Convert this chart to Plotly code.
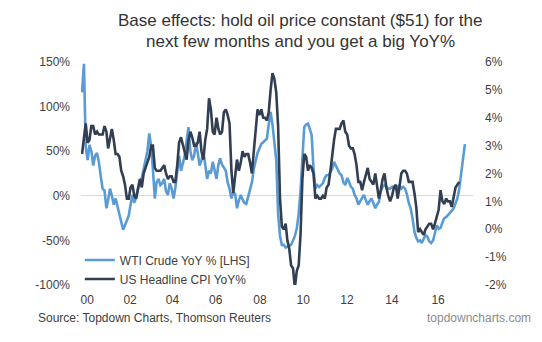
import plotly.graph_objects as go
import pandas as pd

# ---- data (monthly, starting Jan 2000) ----
wti_yoy = [
    116, 148, 55, 40, 57, 50, 34, 45, 48, 38, 22, 8,          # 2000
    6, -14, -5, 8, 0, -10, -3, -12, -22, -29, -38, -33,       # 2001
    -28, -22, -10, 1, -8, -2, 8, 16, 20, 30, 42, 50,          # 2002
    70, 55, 30, -3, 15, 19, 12, 14, 19, 5, 1, 14,             # 2003
    8, -3, 9, 30, 45, 28, 35, 45, 62, 77, 50, 40,             # 2004
    45, 60, 48, 34, 40, 49, 35, 19, 28, 25, 38, 30,           # 2005
    19, 35, 42, 35, 31, 28, 15, 8, -3, 4, 2, -14,             # 2006
    -5, 1, -4, -8, -9, 0, 8, 15, 30, 40, 48, 53,              # 2007
    58, 60, 62, 64, 80, 94, 80, 60, 40, -20, -45, -55,        # 2008
    -55, -58, -57, -56, -55, -50, -45, -37, -20, 5, 45, 77,   # 2009
    80, 81, 75, 68, 30, 8, 12, 10, 12, 14, 20, 23,            # 2010
    23, 27, 30, 38, 33, 29, 25, 23, 15, 12, 20, 16,           # 2011
    10, 8, 1, -3, -10, -6, -2, 1, -5, -10, -6, -3,            # 2012
    -8, -14, -10, -7, 5, 10, 12, 10, 8, 8, 10, 10,            # 2013
    8, 10, 12, 8, 10, 8, 2, -8, -14, -25, -40, -47,           # 2014
    -51, -50, -53, -48, -44, -46, -51, -53, -50, -42, -33, -37,  # 2015
    -36, -30, -25, -24, -22, -20, -17, -14, -7, -3, 8, 25,    # 2016
    45, 58,                                                   # 2017 (oil held at $51)
]

cpi_yoy = [
    2.7, 3.2, 3.8, 3.1, 3.2, 3.7, 3.7, 3.4, 3.5, 3.4, 3.4, 3.4,
    3.7, 3.5, 2.9, 3.3, 3.6, 3.2, 2.7, 2.7, 2.6, 2.1, 1.9, 1.6,
    1.1, 1.1, 1.5, 1.6, 1.2, 1.1, 1.5, 1.8, 1.5, 2.0, 2.2, 2.4,
    2.6, 3.0, 3.0, 2.2, 2.1, 2.1, 2.1, 2.2, 2.3, 2.0, 1.8, 1.9,
    1.9, 1.7, 1.7, 2.3, 3.1, 3.3, 3.0, 2.7, 2.5, 3.2, 3.5, 3.3,
    3.0, 3.0, 3.1, 3.5, 2.8, 2.5, 3.2, 3.6, 4.7, 4.3, 3.5, 3.4,
    4.0, 3.6, 3.4, 3.5, 4.2, 4.3, 4.1, 3.8, 2.1, 1.3, 2.0, 2.5,
    2.1, 2.4, 2.8, 2.6, 2.7, 2.7, 2.4, 2.0, 2.8, 3.5, 4.3, 4.1,
    4.3, 4.0, 4.0, 3.9, 4.2, 5.0, 5.6, 5.4, 4.9, 3.7, 1.1, 0.1,
    0.0, 0.2, -0.4, -0.7, -1.3, -1.4, -2.1, -1.5, -1.3, -0.2, 1.8, 2.7,
    2.6, 2.1, 2.3, 2.2, 2.0, 1.1, 1.2, 1.1, 1.1, 1.2, 1.1, 1.5,
    1.6, 2.1, 2.7, 3.2, 3.6, 3.6, 3.6, 3.8, 3.9, 3.5, 3.4, 3.0,
    2.9, 2.9, 2.7, 2.3, 1.7, 1.7, 1.4, 1.7, 2.0, 2.2, 1.8, 1.7,
    1.6, 2.0, 1.5, 1.1, 1.4, 1.8, 2.0, 1.5, 1.2, 1.0, 1.2, 1.5,
    1.6, 1.1, 1.5, 2.0, 2.1, 2.1, 2.0, 1.7, 1.7, 1.7, 1.3, 0.8,
    -0.1, 0.0, -0.1, -0.2, 0.0, 0.1, 0.2, 0.2, 0.0, 0.2, 0.5, 0.7,
    1.4, 1.0, 0.9, 1.1, 1.0, 1.0, 0.8, 1.1, 1.5, 1.6, 1.7,
]

wti_dates = pd.date_range("2000-01-01", periods=len(wti_yoy), freq="MS").strftime("%Y-%m-%d").tolist()
cpi_dates = pd.date_range("2000-01-01", periods=len(cpi_yoy), freq="MS").strftime("%Y-%m-%d").tolist()

# tick label positions as they sit under the time axis in the original
x_tick_dates = ["2000-03-26", "2002-02-22", "2004-01-13", "2005-12-19", "2007-12-10",
                "2009-11-13", "2011-10-28", "2013-11-01", "2015-11-22"]
x_tick_text = ["00", "02", "04", "06", "08", "10", "12", "14", "16"]

left_ticks = [-100, -50, 0, 50, 100, 150]
left_text = ["-100%", "-50%", "0%", "50%", "100%", "150%"]
right_ticks = [-2, -1, 0, 1, 2, 3, 4, 5, 6]
right_text = ["-2%", "-1%", "0%", "1%", "2%", "3%", "4%", "5%", "6%"]

title_line1 = "Base effects: hold oil price constant ($51) for the"
title_line2 = "next few months and you get a big YoY%"
source_text = "Source: Topdown Charts, Thomson Reuters"
site_text = "topdowncharts.com"

FONT = "Liberation Sans, Arial, sans-serif"
TXT = "#404040"

fig = go.Figure()
fig.add_trace(go.Scatter(
    x=wti_dates, y=wti_yoy, mode="lines", name="WTI Crude YoY % [LHS]",
    line=dict(color="#5B9BD5", width=2.6), legend="legend", yaxis="y",
))
fig.add_trace(go.Scatter(
    x=cpi_dates, y=cpi_yoy, mode="lines", name="US Headline CPI YoY%",
    line=dict(color="#323E52", width=2.6), legend="legend2", yaxis="y2",
))

fig.update_layout(
    width=542, height=342,
    margin=dict(l=81, r=69, t=62, b=57),
    paper_bgcolor="white", plot_bgcolor="white",
    font=dict(family=FONT, size=12, color=TXT),
    xaxis=dict(
        type="date", range=["1999-12-15", "2017-06-13"],
        tickvals=x_tick_dates, ticktext=x_tick_text,
        showgrid=False, zeroline=False, showline=False,
        ticks="", ticklabelstandoff=6,
        tickfont=dict(size=12, color=TXT),
    ),
    yaxis=dict(
        range=[-100, 150], tickvals=left_ticks, ticktext=left_text,
        showgrid=False, zeroline=True, zerolinecolor="#D9D9D9", zerolinewidth=1,
        showline=False, ticks="", ticklabelstandoff=10,
        tickfont=dict(size=12, color=TXT),
    ),
    yaxis2=dict(
        range=[-2, 6], tickvals=right_ticks, ticktext=right_text,
        overlaying="y", side="right",
        showgrid=False, zeroline=False, showline=False, ticks="", ticklabelstandoff=11,
        tickfont=dict(size=12, color=TXT),
    ),
    legend=dict(x=-0.003, y=0.112, xanchor="left", yanchor="middle",
                bgcolor="rgba(0,0,0,0)", font=dict(size=12, color=TXT)),
    legend2=dict(x=-0.003, y=0.027, xanchor="left", yanchor="middle",
                 bgcolor="rgba(0,0,0,0)", font=dict(size=12, color=TXT)),
    showlegend=True,
)

fig.add_annotation(text=title_line1, xref="paper", yref="paper", x=0.5587, y=1.184,
                   xanchor="center", yanchor="middle", showarrow=False,
                   font=dict(size=17, color="#333333", family=FONT))
fig.add_annotation(text=title_line2, xref="paper", yref="paper", x=0.5587, y=1.092,
                   xanchor="center", yanchor="middle", showarrow=False,
                   font=dict(size=17, color="#333333", family=FONT))
fig.add_annotation(text=source_text, xref="paper", yref="paper", x=-0.115, y=-0.146,
                   xanchor="left", yanchor="middle", showarrow=False,
                   font=dict(size=12, color=TXT, family=FONT))
fig.add_annotation(text=site_text, xref="paper", yref="paper", x=1.153, y=-0.146,
                   xanchor="right", yanchor="middle", showarrow=False,
                   font=dict(size=12, color="#8C8C8C", family=FONT))

fig.write_html("out.html")
